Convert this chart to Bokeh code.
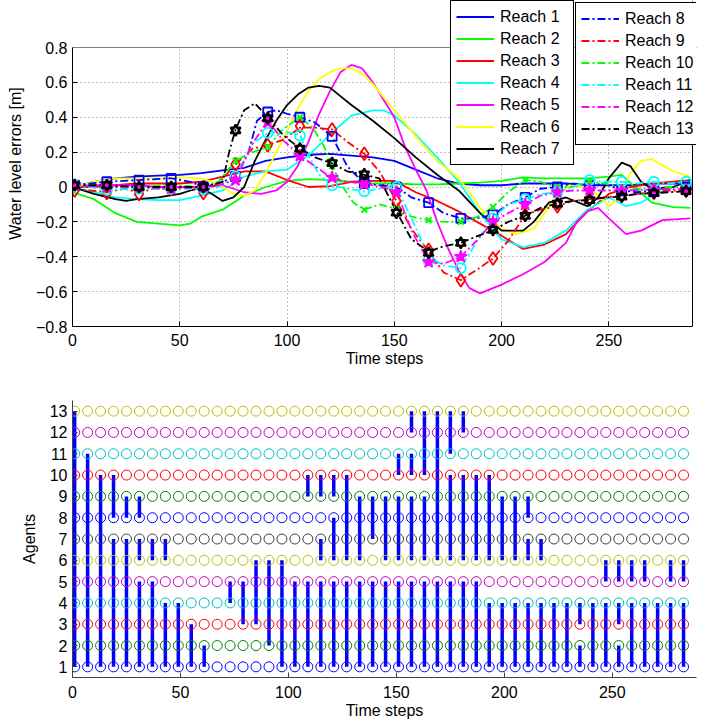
from bokeh.plotting import figure
from bokeh.layouts import column
from bokeh.models import (Range1d, FixedTicker, CustomJSTickFormatter, Legend, LegendItem,
                          BoxAnnotation, Span)
from bokeh.embed import file_html
from bokeh.resources import INLINE

FONT = "Liberation Sans"

# ---------------- top chart data ----------------
x_ticks = [0, 50, 100, 150, 200, 250]
y_ticks_top = [-0.8, -0.6, -0.4, -0.2, 0.0, 0.2, 0.4, 0.6, 0.8]
x_lim = (0, 289)
y_lim_top = (-0.8, 0.8)

r1_t = [0, 10, 20, 30, 40, 50, 60, 70, 80, 90, 100, 110, 120, 130, 140, 150, 160, 170, 180, 190, 200, 210, 220, 230, 240, 250, 260, 270, 288]
r1_v = [0, 0.03, 0.05, 0.06, 0.065, 0.07, 0.08, 0.095, 0.11, 0.15, 0.17, 0.185, 0.19, 0.18, 0.17, 0.15, 0.1, 0.05, 0.02, 0.01, 0.01, 0.02, 0.02, 0.02, 0.01, 0.01, 0.01, 0.02, 0.02]

r2_t = [0, 10, 20, 30, 40, 50, 55, 60, 70, 80, 90, 100, 110, 120, 130, 140, 150, 160, 170, 180, 190, 200, 210, 220, 230, 240, 250, 256, 262, 270, 280, 288]
r2_v = [-0.03, -0.07, -0.15, -0.2, -0.21, -0.22, -0.21, -0.17, -0.13, -0.05, 0.0, 0.035, 0.045, 0.04, 0.03, 0.02, 0.02, 0.015, 0.015, 0.02, 0.025, 0.035, 0.055, 0.05, 0.05, 0.05, 0.06, 0.07, 0.0, -0.09, -0.115, -0.12]

r3_t = [0, 10, 20, 30, 40, 50, 60, 70, 80, 90, 100, 110, 120, 130, 140, 150, 160, 170, 180, 190, 200, 210, 220, 230, 240, 250, 260, 270, 280, 288]
r3_v = [0, 0.0, 0.01, 0.02, 0.02, 0.02, 0.03, 0.06, 0.09, 0.09, 0.04, 0.0, 0.005, 0.03, 0.035, 0.035, -0.03, -0.08, -0.14, -0.21, -0.28, -0.355, -0.33, -0.27, -0.14, -0.04, 0.0, 0.02, 0.03, 0.04]

r4_t = [0, 10, 20, 30, 40, 50, 60, 70, 80, 90, 100, 110, 120, 130, 140, 145, 150, 160, 170, 180, 190, 200, 210, 220, 230, 240, 250, 258, 265, 270, 280, 288]
r4_v = [0, -0.03, -0.06, -0.07, -0.075, -0.075, -0.05, -0.02, 0.06, 0.09, 0.1, 0.18, 0.3, 0.41, 0.44, 0.44, 0.41, 0.3, 0.17, 0.03, -0.15, -0.3, -0.345, -0.32, -0.25, -0.13, -0.06, -0.11, -0.09, -0.05, 0.0, 0.04]

r5_t = [0, 10, 20, 30, 40, 50, 60, 70, 80, 88, 95, 100, 105, 110, 115, 120, 125, 130, 135, 140, 145, 150, 155, 160, 165, 170, 175, 180, 185, 190, 200, 210, 220, 230, 235, 240, 245, 250, 258, 265, 275, 288]
r5_v = [0, 0.01, 0.01, 0.01, 0.0, 0.0, 0.0, 0.01, -0.03, -0.04, -0.02, 0.03, 0.12, 0.26, 0.42, 0.55, 0.66, 0.7, 0.68, 0.6, 0.5, 0.4, 0.23, 0.1, -0.02, -0.2, -0.35, -0.48, -0.58, -0.61, -0.56, -0.5, -0.43, -0.32, -0.2, -0.14, -0.12, -0.18, -0.27, -0.25, -0.19, -0.18]

r6_t = [0, 10, 20, 30, 40, 50, 60, 65, 70, 75, 80, 85, 90, 95, 100, 105, 110, 115, 120, 125, 130, 135, 140, 150, 160, 170, 180, 185, 190, 200, 207, 215, 220, 225, 232, 240, 245, 250, 255, 260, 265, 270, 280, 288]
r6_v = [0, 0.03, 0.05, 0.05, 0.05, 0.055, 0.05, 0.03, 0.0, -0.04, -0.05, -0.02, 0.08, 0.2, 0.32, 0.45, 0.55, 0.62, 0.66, 0.68, 0.68, 0.65, 0.59, 0.44, 0.29, 0.15, 0.05, -0.03, -0.12, -0.24, -0.27, -0.24, -0.15, -0.06, 0.01, 0.0, -0.05, -0.11, -0.06, 0.08, 0.15, 0.16, 0.09, 0.06]

r7_t = [0, 10, 20, 25, 30, 40, 50, 55, 60, 65, 70, 75, 80, 85, 90, 95, 100, 105, 110, 115, 120, 125, 130, 140, 150, 160, 170, 180, 190, 195, 200, 210, 215, 222, 230, 240, 245, 250, 256, 260, 265, 270, 280, 288]
r7_v = [0, -0.04, -0.07, -0.08, -0.07, -0.06, -0.04, -0.02, -0.005, -0.04, -0.08, -0.06, 0.0, 0.15, 0.27, 0.38, 0.47, 0.53, 0.57, 0.58, 0.57, 0.52, 0.47, 0.38, 0.28, 0.17, 0.07, -0.02, -0.15, -0.2, -0.25, -0.25, -0.2, -0.09, -0.06, -0.11, -0.06, 0.05, 0.14, 0.12, 0.03, -0.01, 0.0, 0.04]

r8_t = [0, 16, 31, 46, 55, 61, 68, 76, 82, 86, 91, 95, 100, 106, 113, 121, 128, 136, 143, 151, 158, 166, 173, 181, 188, 196, 203, 211, 218, 226, 233, 241, 248, 256, 263, 271, 278, 286, 288]
r8_v = [0.01, 0.03, 0.04, 0.05, 0.03, 0.0, 0.02, 0.06, 0.2, 0.38, 0.43, 0.44, 0.42, 0.4, 0.37, 0.29, 0.12, 0.02, 0.01, 0.0, -0.06, -0.09, -0.15, -0.18, -0.18, -0.16, -0.1, -0.06, -0.01, 0.0, 0.02, 0.01, 0.02, -0.02, -0.03, -0.02, 0.0, 0.0, 0.0]

r9_t = [0, 8, 16, 24, 31, 38, 46, 54, 61, 68, 76, 84, 91, 98, 106, 113, 121, 128, 136, 143, 151, 158, 166, 173, 181, 189, 196, 203, 211, 218, 226, 233, 241, 248, 256, 263, 271, 278, 286, 288]
r9_v = [-0.01, -0.02, -0.03, -0.01, -0.03, -0.01, -0.01, 0.0, -0.03, 0.02, 0.13, 0.22, 0.24, 0.27, 0.34, 0.34, 0.33, 0.26, 0.19, 0.09, -0.08, -0.24, -0.37, -0.49, -0.535, -0.47, -0.41, -0.31, -0.16, -0.13, -0.11, -0.08, -0.07, -0.06, -0.05, -0.04, -0.03, -0.02, -0.02, -0.02]

r10_t = [0, 16, 31, 46, 61, 68, 76, 84, 91, 98, 106, 112, 117, 121, 126, 131, 136, 143, 151, 158, 166, 173, 181, 189, 196, 203, 211, 218, 226, 233, 241, 248, 256, 263, 271, 278, 288]
r10_v = [0.0, 0.0, 0.0, 0.01, 0.0, 0.03, 0.15, 0.2, 0.23, 0.33, 0.4, 0.34, 0.24, 0.12, 0.0, -0.09, -0.13, -0.1, -0.125, -0.17, -0.19, -0.2, -0.2, -0.17, -0.115, -0.03, 0.04, 0.03, 0.0, 0.0, 0.03, 0.02, 0.0, -0.01, -0.01, 0.0, 0.0]

r11_t = [0, 8, 16, 31, 46, 61, 68, 76, 84, 91, 98, 106, 110, 115, 121, 128, 136, 143, 151, 158, 166, 173, 181, 189, 196, 203, 211, 218, 226, 233, 241, 248, 256, 263, 271, 278, 286, 288]
r11_v = [0.01, 0.0, -0.015, -0.01, -0.01, -0.01, 0.0, 0.06, 0.25, 0.31, 0.32, 0.3, 0.18, 0.07, 0.01, -0.01, -0.025, -0.01, 0.0, -0.18, -0.4, -0.45, -0.465, -0.3, -0.18, -0.1, -0.07, -0.04, -0.03, 0.0, 0.04, 0.03, 0.03, 0.02, 0.03, 0.02, 0.03, 0.03]

r12_t = [0, 16, 31, 46, 61, 68, 76, 84, 91, 98, 106, 113, 121, 128, 136, 143, 151, 158, 166, 173, 181, 189, 196, 203, 211, 218, 226, 233, 241, 256, 271, 288]
r12_v = [0.01, 0.0, 0.0, -0.01, 0.0, 0.01, 0.04, 0.25, 0.38, 0.27, 0.18, 0.12, 0.05, 0.03, 0.02, 0.0, -0.02, -0.25, -0.43, -0.44, -0.4, -0.3, -0.2, -0.15, -0.1, -0.05, -0.03, -0.02, -0.02, -0.02, -0.015, -0.01]

r13_t = [0, 16, 31, 46, 61, 70, 73, 76, 80, 85, 91, 98, 106, 113, 121, 128, 136, 143, 151, 158, 166, 173, 181, 189, 196, 203, 211, 218, 226, 233, 241, 248, 256, 263, 271, 278, 286, 288]
r13_v = [0.01, 0.01, 0.0, 0.0, 0.0, 0.03, 0.2, 0.33, 0.44, 0.48, 0.4, 0.3, 0.22, 0.17, 0.135, 0.09, 0.07, 0.05, -0.14, -0.3, -0.37, -0.34, -0.32, -0.28, -0.25, -0.2, -0.165, -0.12, -0.095, -0.08, -0.075, -0.06, -0.055, -0.04, -0.035, -0.03, -0.024, -0.02]

# marker positions (every 15 time steps)
mk_t = [1, 16, 31, 46, 61, 76, 91, 106, 121, 136, 151, 166, 181, 196, 211, 226, 241, 256, 271, 286]
m8_v = [0.01, 0.03, 0.04, 0.05, 0.0, 0.06, 0.43, 0.4, 0.29, 0.02, 0.0, -0.09, -0.18, -0.16, -0.06, 0.0, 0.01, -0.02, -0.02, 0.0]
m9_v = [-0.02, -0.035, -0.04, -0.01, -0.035, 0.13, 0.24, 0.35, 0.33, 0.19, -0.08, -0.36, -0.535, -0.41, -0.16, -0.11, -0.07, -0.05, -0.03, -0.02]
m10_v = [0.0, 0.0, 0.0, 0.01, 0.0, 0.15, 0.23, 0.4, 0.12, -0.13, -0.125, -0.19, -0.2, -0.115, 0.04, 0.0, 0.03, 0.0, -0.01, 0.0]
m11_v = [0.01, -0.015, -0.01, -0.01, -0.01, 0.06, 0.31, 0.295, 0.01, -0.025, 0.0, -0.42, -0.465, -0.18, -0.07, -0.03, 0.04, 0.03, 0.03, 0.03]
m12_v = [0.01, 0.0, 0.0, -0.01, 0.0, 0.04, 0.37, 0.18, 0.055, 0.016, -0.03, -0.43, -0.4, -0.2, -0.1, -0.03, -0.016, -0.02, -0.016, -0.015]
m13_v = [0.01, 0.01, 0.0, 0.0, 0.0, 0.325, 0.395, 0.22, 0.137, 0.073, -0.147, -0.377, -0.32, -0.246, -0.165, -0.095, -0.075, -0.055, -0.035, -0.024]

labels = ["Reach %d" % i for i in range(1, 14)]
line_colors = ["#0000ff", "#00ff00", "#ff0000", "#00ffff", "#ff00ff", "#ffff00", "#000000",
               "#0000ff", "#ff0000", "#00ff00", "#00ffff", "#ff00ff", "#000000"]

# ---------------- bottom chart data ----------------
agents = [1, 2, 3, 4, 5, 6, 7, 8, 9, 10, 11, 12, 13]
agent_colors = ["#0000ff", "#008000", "#ff0000", "#00bfbf", "#bf00bf", "#bfbf00", "#404040",
                "#0000ff", "#008000", "#ff0000", "#00bfbf", "#bf00bf", "#bfbf00"]
col_t = [1, 7, 13, 19, 25, 31, 37, 43, 49, 55, 61, 67, 73, 79, 85, 91, 97, 103, 109, 115, 121, 127, 133, 139,
         145, 151, 157, 163, 169, 175, 181, 187, 193, 199, 205, 211, 217, 223, 229, 235, 241, 247, 253, 259,
         265, 271, 277, 283]
y_ticks_bot = [1, 2, 3, 4, 5, 6, 7, 8, 9, 10, 11, 12, 13]
y_lim_bot = (0.5, 13.5)

seg_t = [1, 7, 13, 19, 19, 25, 25, 31, 31, 31, 37, 37, 43, 43, 49, 55, 61,
         73, 79, 85, 91, 97, 103,
         109, 109, 115, 115, 115, 121, 121, 121, 127, 127, 133, 133, 139, 139, 145, 145,
         151, 151, 151, 157, 157, 157, 157, 163, 163, 163, 169, 169, 175, 175, 175, 181, 181, 181,
         187, 187, 193, 193, 199, 199, 205, 205, 211, 211, 211, 217, 217, 223, 229,
         235, 235, 241, 247, 247, 253, 253, 253, 259, 259, 265, 265, 271, 277, 277, 283, 283]
seg_lo = [1, 1, 1, 1, 8, 1, 8, 1, 6, 8, 1, 6, 1, 6, 1, 1, 1,
          4, 3, 3, 2, 1, 1,
          1, 9, 1, 6, 9, 1, 6, 9, 1, 6, 1, 6, 1, 7, 1, 6,
          1, 6, 10, 1, 6, 10, 12, 1, 6, 10, 1, 6, 1, 6, 11, 1, 6, 12,
          1, 6, 1, 6, 1, 6, 1, 6, 1, 6, 8, 1, 6, 1, 1,
          1, 3, 1, 1, 5, 1, 3, 5, 1, 5, 1, 5, 1, 1, 5, 1, 5]
seg_hi = [13, 11, 10, 7, 10, 7, 9, 5, 7, 9, 5, 7, 4, 7, 4, 3, 2,
          5, 5, 6, 6, 6, 5,
          5, 10, 5, 7, 10, 5, 8, 10, 5, 10, 5, 9, 5, 9, 5, 9,
          5, 9, 11, 5, 9, 11, 13, 5, 9, 13, 5, 13, 5, 10, 13, 5, 10, 13,
          5, 10, 4, 10, 4, 9, 4, 9, 4, 7, 9, 4, 7, 4, 4,
          2, 4, 4, 4, 6, 2, 4, 6, 4, 6, 4, 6, 4, 4, 6, 4, 6]

# ---------------- layout constants ----------------
W = 700
H1 = 370
H2 = 352
LEFT, RIGHT = 72, 4
BOX_TOP = 47           # y pixel of the top edge of the upper plot box
BOT1 = 44              # bottom border of upper plot
frame_h1 = H1 - BOT1   # upper frame spans from y=0 to the x axis
box_h1 = frame_h1 - BOX_TOP
y_top_ext = y_lim_top[0] + (y_lim_top[1] - y_lim_top[0]) * frame_h1 / box_h1
frame_w1 = W - LEFT    # upper frame spans to the right edge (so the legends are not clipped)
box_w1 = W - LEFT - RIGHT
x_right_ext = x_lim[0] + (x_lim[1] - x_lim[0]) * frame_w1 / box_w1


def style_axes(p, color, label_standoff_x, axis_standoff_x, label_standoff_y, axis_standoff_y):
    for ax in (p.xaxis, p.yaxis):
        ax.axis_line_color = color
        ax.major_tick_line_color = color
        ax.major_tick_in = 5
        ax.major_tick_out = 0
        ax.minor_tick_in = 0
        ax.minor_tick_out = 0
        ax.major_label_text_font = FONT
        ax.major_label_text_font_size = "16px"
        ax.major_label_text_color = "black"
        ax.axis_label_text_font = FONT
        ax.axis_label_text_font_size = "16px"
        ax.axis_label_text_font_style = "normal"
        ax.axis_label_text_color = "black"
    p.xaxis.major_label_standoff = label_standoff_x
    p.xaxis.axis_label_standoff = axis_standoff_x
    p.yaxis.major_label_standoff = label_standoff_y
    p.yaxis.axis_label_standoff = axis_standoff_y


# ---------------- top figure ----------------
p1 = figure(width=W, height=H1, output_backend="svg", toolbar_location=None,
            x_range=Range1d(x_lim[0], x_right_ext), y_range=Range1d(y_lim_top[0], y_top_ext),
            min_border_left=LEFT, min_border_right=0, min_border_top=0, min_border_bottom=BOT1)
p1.outline_line_color = None
p1.xaxis.ticker = FixedTicker(ticks=x_ticks)
p1.yaxis.ticker = FixedTicker(ticks=y_ticks_top)
p1.xaxis.bounds = x_lim
p1.yaxis.bounds = y_lim_top
p1.yaxis.formatter = CustomJSTickFormatter(
    code='return Math.abs(tick) < 1e-9 ? "0" : tick.toFixed(1).replace("-", "\u2212");')
p1.xaxis.axis_label = "Time steps"
p1.yaxis.axis_label = "Water level errors [m]"
for g in (p1.xgrid, p1.ygrid):
    g.grid_line_color = "#7f7f7f"
    g.grid_line_dash = "1 3"
    g.grid_line_width = 1
style_axes(p1, "black", 7, 1, 5, 9)

series = [(r1_t, r1_v), (r2_t, r2_v), (r3_t, r3_v), (r4_t, r4_v), (r5_t, r5_v), (r6_t, r6_v), (r7_t, r7_v),
          (r8_t, r8_v), (r9_t, r9_v), (r10_t, r10_v), (r11_t, r11_v), (r12_t, r12_v), (r13_t, r13_v)]
renderers = []
for i, (t, v) in enumerate(series):
    dash = "solid" if i < 7 else "8 3 2 3"
    r = p1.line(t, v, line_color=line_colors[i], line_width=1.8, line_dash=dash)
    renderers.append(r)

p1.scatter(mk_t, m8_v, marker="square", size=9, fill_alpha=0, line_color="#0000ff", line_width=1.8)
p1.scatter(mk_t, m9_v, marker="diamond", size=13, fill_alpha=0, line_color="#ff0000", line_width=1.8)
p1.scatter(mk_t, m10_v, marker="x", size=8, line_color="#00ff00", line_width=2)
p1.scatter(mk_t, m11_v, marker="circle", size=10, fill_alpha=0, line_color="#00ffff", line_width=1.8)
p1.scatter(mk_t, m12_v, marker="star", size=13, fill_color="#ff00ff", fill_alpha=1,
           line_color="#ff00ff", line_width=1.5)
p1.scatter(mk_t, m13_v, marker="triangle", size=10, fill_alpha=0, line_color="#000000", line_width=2)
p1.scatter(mk_t, m13_v, marker="inverted_triangle", size=10, fill_alpha=0, line_color="#000000", line_width=2)

# white covers outside the plot box, then the box's top and right edges
p1.add_layout(BoxAnnotation(bottom=y_lim_top[1], fill_color="white", fill_alpha=1.0, line_alpha=0))
p1.add_layout(BoxAnnotation(left=x_lim[1], fill_color="white", fill_alpha=1.0, line_alpha=0))
p1.add_layout(Span(location=y_lim_top[1], dimension="width", line_color="black", line_width=1))
p1.add_layout(Span(location=x_lim[1], dimension="height", line_color="black", line_width=1))
p1.add_layout(BoxAnnotation(bottom=y_lim_top[1], left=x_lim[1], fill_color="white", fill_alpha=1.0,
                            line_alpha=0))
p1.add_layout(BoxAnnotation(bottom=y_lim_top[1], right=x_lim[1] - 0.6, fill_color="white", fill_alpha=1.0,
                            line_alpha=0))


def make_legend(idx, left, top, label_w):
    n = len(idx)
    pad, lh, sp = 5, 21, 1
    height = 2 * pad + n * lh + (n - 1) * sp
    loc = (left - LEFT, frame_h1 - (top + height))
    leg = Legend(items=[LegendItem(label=labels[i], renderers=[renderers[i]]) for i in idx],
                 location=loc, orientation="vertical")
    leg.margin = 0
    leg.padding = pad
    leg.spacing = sp
    leg.label_height = lh
    leg.glyph_height = lh
    leg.glyph_width = 38
    leg.label_width = label_w
    leg.label_standoff = 6
    leg.label_text_font = FONT
    leg.label_text_font_size = "16px"
    leg.label_text_color = "black"
    leg.border_line_color = "black"
    leg.border_line_width = 1
    leg.border_line_alpha = 1.0
    leg.background_fill_color = "white"
    leg.background_fill_alpha = 1.0
    return leg


p1.add_layout(make_legend(range(0, 7), 450, 2, 68))
p1.add_layout(make_legend(range(7, 13), 575, 4, 68))

# ---------------- bottom figure ----------------
p2 = figure(width=W, height=H2, output_backend="svg", toolbar_location=None,
            x_range=Range1d(*x_lim), y_range=Range1d(*y_lim_bot),
            min_border_left=LEFT, min_border_right=RIGHT, min_border_top=30, min_border_bottom=45)
p2.outline_line_color = None
p2.xgrid.visible = False
p2.ygrid.visible = False
p2.xaxis.ticker = FixedTicker(ticks=x_ticks)
p2.yaxis.ticker = FixedTicker(ticks=y_ticks_bot)
p2.xaxis.axis_label = "Time steps"
p2.yaxis.axis_label = "Agents"
style_axes(p2, "#404040", 8, 1, 5, 9)

p2.segment(x0=seg_t, y0=seg_lo, x1=seg_t, y1=seg_hi, line_color="#0000ff", line_width=3.5)

cx, cy, cc = [], [], []
for a, col in zip(agents, agent_colors):
    for t in col_t:
        cx.append(t)
        cy.append(a)
        cc.append(col)
p2.scatter(cx, cy, marker="circle", size=10, fill_alpha=0, line_color=cc, line_width=1)

layout = column(p1, p2)
open("out.html", "w").write(file_html(layout, INLINE))
